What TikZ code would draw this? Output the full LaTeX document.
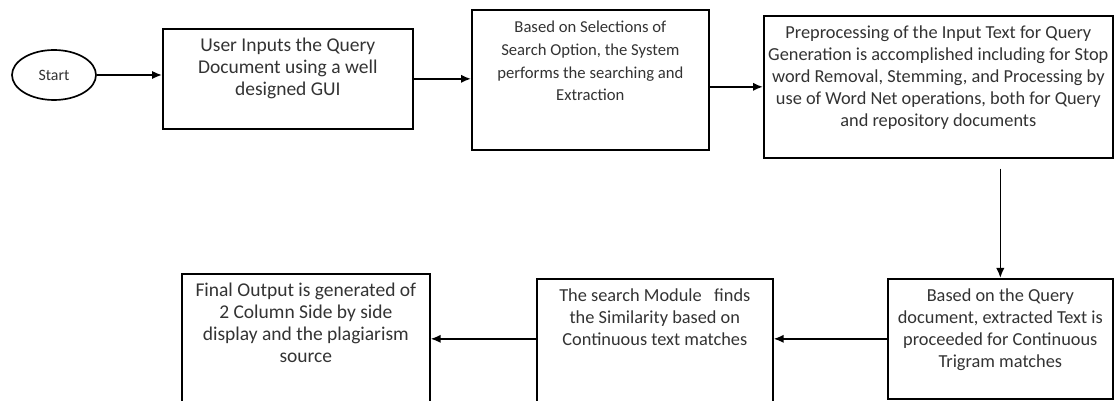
\documentclass[tikz,border=0pt]{standalone}
\usepackage{fontspec}
\setmainfont{Carlito}
\usetikzlibrary{shapes.geometric,arrows.meta}

\newdimen\px \px=0.6pt
% text of a box, set from its top
\newcommand{\boxtext}[3]{\parbox[t][#2\px][t]{#1\px}{\centering\vspace*{7\px}\strut #3}}

\begin{document}
\begin{tikzpicture}[x=0.6pt,y=-0.6pt,
    box/.style={draw,inner sep=0pt,anchor=north west,line width=1pt,
      text=black!80,font=\fontsize{11}{13.2}\selectfont},
    big/.style={font=\fontsize{11.7}{13.2}\selectfont},
    small/.style={font=\fontsize{10}{13.6}\selectfont},
    arr/.style={-{Latex[length=6pt,width=5pt]},line width=1pt}]

        \useasboundingbox[fill=white] (0,0) rectangle (1115,401);
        \clip (0,0) rectangle (1115,401);

        \node[ellipse,draw,line width=1pt,minimum width=50.4pt,minimum height=30pt,
          inner sep=0pt,text=black!80,font=\fontsize{9.5}{11}\selectfont] (start) at (54,75) {Start};

        \node[box,big]   (input)   at (162,28)  {\boxtext{250}{100}{User Inputs the Query\\Document using a well\\designed GUI}};
        \node[box,small] (search)  at (471,9)   {\boxtext{237}{140}{Based on Selections of\\Search Option, the System\\performs the searching and\\Extraction}};
        \node[box]       (preproc) at (763,15)  {\boxtext{349}{142}{Preprocessing of the Input Text for Query\\Generation is accomplished including for Stop\\word Removal, Stemming, and Processing by\\use of Word Net operations, both for Query\\and repository documents}};
        \node[box]       (trigram) at (887,278) {\boxtext{225}{120}{Based on the Query\\document, extracted Text is\\proceeded for Continuous\\Trigram matches}};
        \node[box]       (similar) at (536,278) {\boxtext{236}{135}{The search Module\ \ \ finds\\the Similarity based on\\Continuous text matches}};
        \node[box,big]   (output)  at (181,273) {\boxtext{248}{140}{Final Output is generated of\\2 Column Side by side\\display and the plagiarism\\source}};

        \draw[arr] (start.east) -- (start.east -| input.west);
        \draw[arr] (input.east) -- (input.east -| search.west);
        \draw[arr] (preproc.west -| search.east) -- (preproc.west);
        \draw[arr,shorten <=6pt] (trigram.north |- preproc.south) -- (trigram.north);
        \draw[arr] (trigram.west) -- (trigram.west -| similar.east);
        \draw[arr] (trigram.west -| similar.west) -- (trigram.west -| output.east);

\end{tikzpicture}
\end{document}
